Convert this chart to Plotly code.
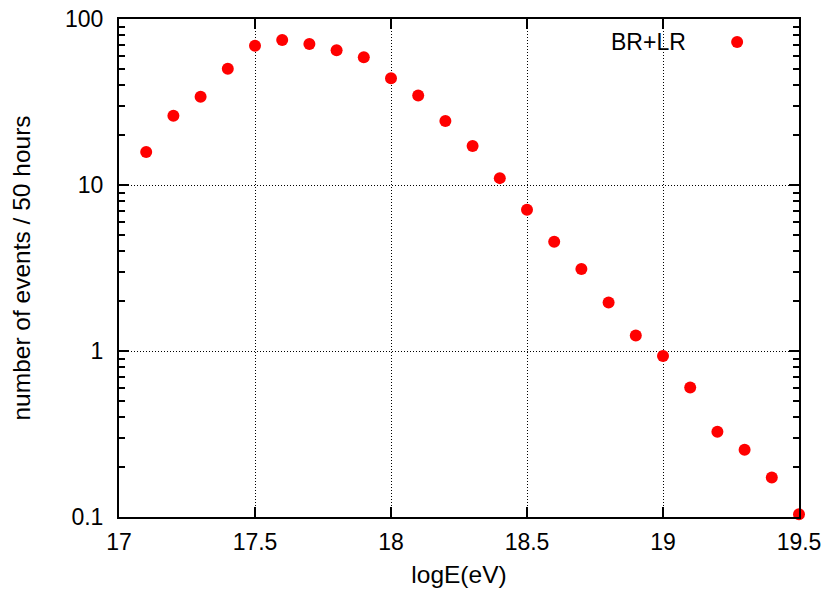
import plotly.graph_objects as go

# Energy bins (log10 of energy in eV) and event counts per 50 hours
log_energy = [17.1, 17.2, 17.3, 17.4, 17.5, 17.6, 17.7, 17.8, 17.9, 18.0,
              18.1, 18.2, 18.3, 18.4, 18.5, 18.6, 18.7, 18.8, 18.9, 19.0,
              19.1, 19.2, 19.3, 19.4, 19.5]
events_br_lr = [15.8, 26.1, 34.0, 50.2, 69.1, 74.8, 70.7, 64.8, 58.9, 44.0,
                34.6, 24.3, 17.2, 11.0, 7.10, 4.55, 3.12, 1.96, 1.24, 0.933,
                0.602, 0.326, 0.254, 0.173, 0.104]

x_ticks = [17, 17.5, 18, 18.5, 19, 19.5]
x_tick_text = ["17", "17.5", "18", "18.5", "19", "19.5"]
y_ticks = [0.1, 1, 10, 100]
y_tick_text = ["0.1", "1", "10", "100"]
y_minor = [m * d for d in (0.1, 1, 10) for m in range(2, 10)]

series_name = "BR+LR"
red = "#ff0000"
family = "Liberation Sans, Arial, sans-serif"
tick_font = dict(family=family, size=23, color="black")
title_font = dict(family=family, size=24.5, color="black")

fig = go.Figure()
fig.add_trace(go.Scatter(
    x=log_energy, y=events_br_lr, mode="markers", name=series_name,
    marker=dict(color=red, size=12, line=dict(width=0)),
    showlegend=False, cliponaxis=False,
))

axis_common = dict(
    showline=True, linecolor="black", linewidth=2, mirror="ticks",
    ticks="inside", ticklen=10, tickwidth=1.5, tickcolor="black",
    showgrid=True, gridcolor="black", gridwidth=1, griddash="1px,2px",
    zeroline=False, tickfont=tick_font, automargin=False,
)

fig.update_xaxes(
    range=[17, 19.5], tickvals=x_ticks, ticktext=x_tick_text,
    ticklabelstandoff=3,
    title=dict(text="logE(eV)", font=title_font, standoff=12), **axis_common,
)
fig.update_yaxes(
    type="log", range=[-1, 2], tickvals=y_ticks, ticktext=y_tick_text,
    ticklabelstandoff=9,
    minor=dict(tickvals=y_minor, ticks="inside", ticklen=6, tickwidth=1.5,
               tickcolor="black", showgrid=False),
    title=dict(text="number of events / 50 hours", font=title_font, standoff=27),
    **axis_common,
)

# Key: label on the left, symbol on the right
fig.add_annotation(
    x=0.834, y=0.954, xref="paper", yref="paper", xanchor="right", yanchor="middle",
    text=series_name, showarrow=False, font=tick_font, xshift=2,
)
fig.add_shape(
    type="circle", xref="paper", yref="paper", xsizemode="pixel", ysizemode="pixel",
    xanchor=0.909, yanchor=0.954, x0=-6, x1=6, y0=-6, y1=6,
    fillcolor=red, line=dict(width=0),
)

fig.update_layout(
    width=830, height=597,
    margin=dict(l=119, r=31, t=19, b=80),
    paper_bgcolor="white", plot_bgcolor="white",
    font=tick_font,
)

fig.write_html("out.html")
